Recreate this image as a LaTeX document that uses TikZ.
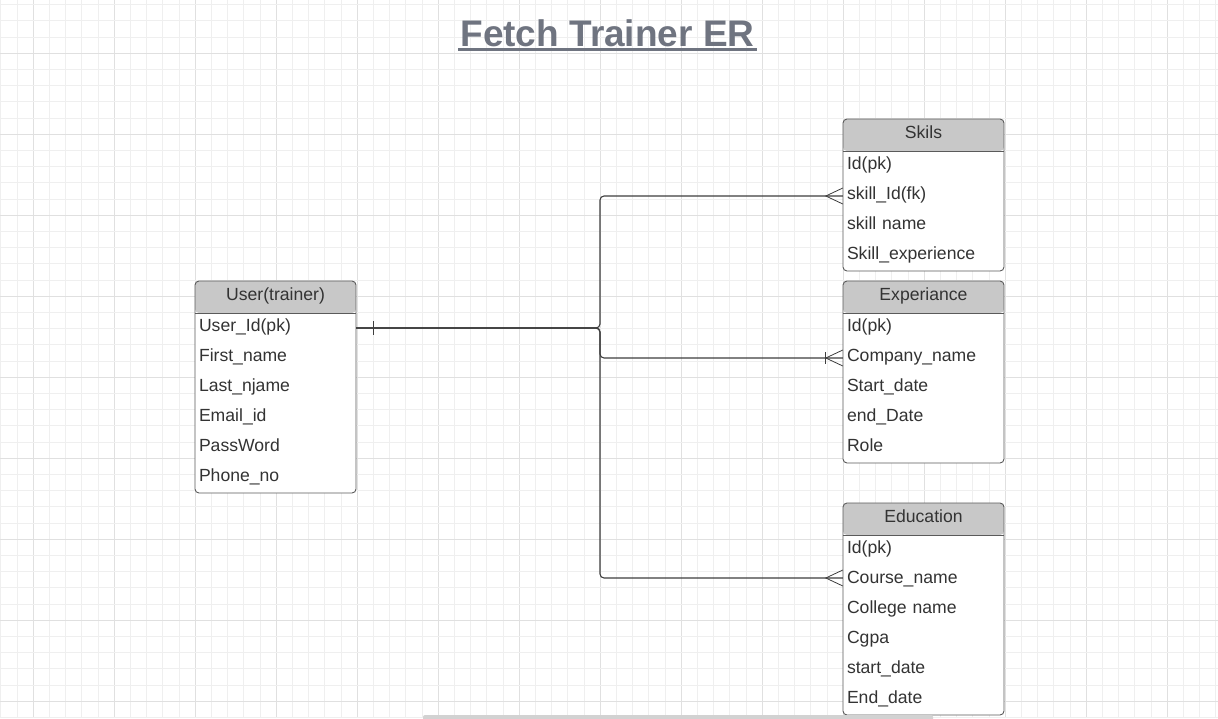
\documentclass[tikz,border=0pt]{standalone}
\usepackage{fontspec}
\setmainfont{Liberation Sans}
\definecolor{gridminor}{HTML}{EFEFEF}
\definecolor{gridmajor}{HTML}{E0E0E0}
\definecolor{hdrfill}{HTML}{C8C8C8}
\definecolor{border}{HTML}{5A5A5A}
\definecolor{txt}{HTML}{333333}
\definecolor{conncol}{HTML}{3E3E3E}
\definecolor{titlecol}{HTML}{6F7480}
\definecolor{barcol}{HTML}{D2D2D2}
\tikzset{
  tbl/.style={draw=border, line width=0.9pt, fill=white, rounded corners=4pt,
    minimum width=161pt, inner sep=0pt,
    path picture={\fill[hdrfill] (path picture bounding box.north west) rectangle ([yshift=-32pt]path picture bounding box.north east);}},
  hdr/.style={minimum width=161pt, text height=13pt, text depth=3pt, inner ysep=8pt, inner xsep=0pt,
    font=\fontsize{17.6}{20}\selectfont, text=txt},
  rowtxt/.style={text width=153pt, inner xsep=4pt, inner ysep=7pt, text height=11pt, text depth=5pt,
    align=left, font=\fontsize{17.6}{20}\selectfont, text=txt},
  tblline/.style={draw=border, line width=0.9pt},
  conn/.style={draw=conncol, line width=1.1pt},
  title/.style={inner sep=0pt, font=\fontsize{37}{44}\selectfont\bfseries, text=titlecol}
}
\newcommand\ertable[5]{%
  \pgfmathsetmacro\cx{#2+80.5}%
  \pgfmathsetmacro\th{32+30*#4}%
  \pgfmathsetmacro\cy{-(#3)-\th/2}%
  \node[tbl, minimum height=\th pt] (#1) at (\cx,\cy) {};
  \node[hdr] (#1h) at (\cx,{-(#3)-16}) {};
  \node[hdr] (#1ht) at (\cx,{-(#3)-14}) {#5};
  \draw[tblline] (#1h.south west) -- (#1h.south east);
}
\begin{document}
\begin{tikzpicture}[x=1pt,y=1pt]
\useasboundingbox (0,0) rectangle (1218,-718);
\fill[white] (0,0) rectangle (1218,-718);
% grid
\begin{scope}
\clip (0,0) rectangle (1218,-718);
\foreach \i in {0,...,75} {
  \pgfmathsetmacro\gx{0.9+16.2*\i}
  \pgfmathtruncatemacro\m{mod(\i+3,5)}
  \ifnum\m=0 \draw[gridmajor, line width=0.9pt] (\gx,0) -- (\gx,-718);
  \else \draw[gridminor, line width=0.9pt] (\gx,0) -- (\gx,-718); \fi
}
\foreach \j in {0,...,44} {
  \pgfmathsetmacro\gy{4.7+16.2*\j}
  \pgfmathtruncatemacro\m{mod(\j+2,5)}
  \ifnum\m=0 \draw[gridmajor, line width=0.9pt] (0,-\gy) -- (1218,-\gy);
  \else \draw[gridminor, line width=0.9pt] (0,-\gy) -- (1218,-\gy); \fi
}
\end{scope}
% title
\node[title, anchor=base] (title) at (607.5,-46) {Fetch Trainer ER};
\draw[titlecol, line width=3pt] ([xshift=-2pt,yshift=-3.5pt]title.base west) -- ([xshift=2pt,yshift=-3.5pt]title.base east);
% tables
\ertable{user}{195}{281}{6}{User(trainer)}
\foreach \t [count=\i] in {User\_Id(pk),First\_name,Last\_njame,Email\_id,PassWord,Phone\_no}
  \node[rowtxt] (user\i) at (275.5,{-281-32-15-30*(\i-1)}) {\t};
\ertable{skils}{843}{119}{4}{Skils}
\foreach \t [count=\i] in {Id(pk),skill\_Id(fk),skill name,Skill\_experience}
  \node[rowtxt] (skils\i) at (923.5,{-119-32-15-30*(\i-1)}) {\t};
\ertable{exper}{843}{281}{5}{Experiance}
\foreach \t [count=\i] in {Id(pk),Company\_name,Start\_date,end\_Date,Role}
  \node[rowtxt] (exper\i) at (923.5,{-281-32-15-30*(\i-1)}) {\t};
\ertable{edu}{843}{503}{6}{Education}
\foreach \t [count=\i] in {Id(pk),Course\_name,College name,Cgpa,start\_date,End\_date}
  \node[rowtxt] (edu\i) at (923.5,{-503-32-15-30*(\i-1)}) {\t};
% connectors
\coordinate (jn) at (600,-328);
\draw[conn, rounded corners=4pt] (user1.east) -- (jn) |- (skils2.west);
\draw[conn, rounded corners=4pt] (user1.east) -- (jn) |- (exper2.west);
\draw[conn, rounded corners=4pt] (user1.east) -- (jn) |- ([yshift=2pt]edu2.west);
% ends
\draw[conn] ([xshift=17pt,yshift=7pt]user1.east) -- ([xshift=17pt,yshift=-7pt]user1.east);
\draw[conn, line width=0.8pt] ([yshift=8pt]skils2.west) -- ([xshift=-17pt]skils2.west) -- ([yshift=-8pt]skils2.west);
\draw[conn, line width=0.8pt] ([yshift=8pt]exper2.west) -- ([xshift=-17pt]exper2.west) -- ([yshift=-8pt]exper2.west);
\draw[conn] ([xshift=-17pt,yshift=6pt]exper2.west) -- ([xshift=-17pt,yshift=-6pt]exper2.west);
\draw[conn, line width=0.8pt] ([yshift=10pt]edu2.west) -- ([xshift=-17pt,yshift=2pt]edu2.west) -- ([yshift=-6pt]edu2.west);
% scrollbar
\fill[barcol, rounded corners=2pt] (423,-715) rectangle (933,-721);
\end{tikzpicture}
\end{document}
